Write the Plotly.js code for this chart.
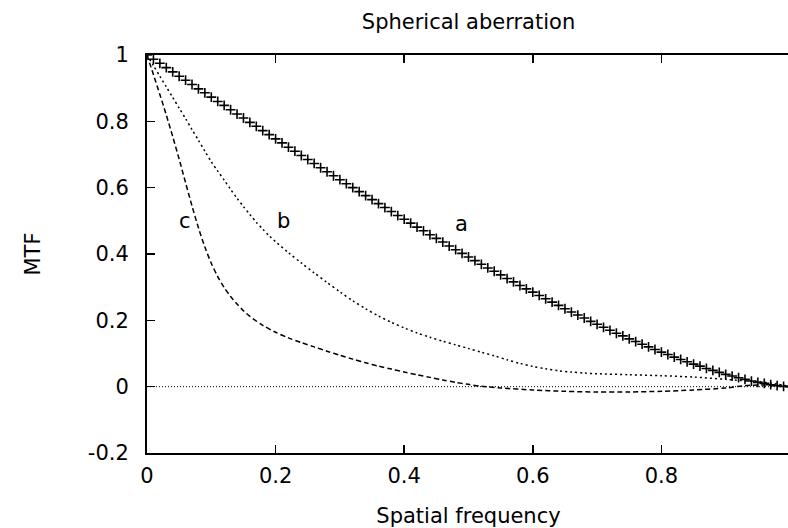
<!DOCTYPE html>
<html>
<head>
<meta charset="utf-8">
<script src="https://cdn.plot.ly/plotly-3.0.1.min.js"></script>
<style>
  html, body { margin: 0; padding: 0; overflow: hidden; background: #fff; }
  #chart { width: 790px; height: 528px; }
</style>
</head>
<body>
<div id="chart"></div>
<script>
// Curve a (diffraction limited, plus markers)
const freqA = [0,0.01,0.02,0.03,0.04,0.05,0.06,0.07,0.08,0.09,0.10,0.11,0.12,0.13,0.14,0.15,0.16,0.17,0.18,0.19,0.20,0.21,0.22,0.23,0.24,0.25,0.26,0.27,0.28,0.29,0.30,0.31,0.32,0.33,0.34,0.35,0.36,0.37,0.38,0.39,0.40,0.41,0.42,0.43,0.44,0.45,0.46,0.47,0.48,0.49,0.50,0.51,0.52,0.53,0.54,0.55,0.56,0.57,0.58,0.59,0.60,0.61,0.62,0.63,0.64,0.65,0.66,0.67,0.68,0.69,0.70,0.71,0.72,0.73,0.74,0.75,0.76,0.77,0.78,0.79,0.80,0.81,0.82,0.83,0.84,0.85,0.86,0.87,0.88,0.89,0.90,0.91,0.92,0.93,0.94,0.95,0.96,0.97,0.98,0.99,1.00];
const mtfA = [1.000,0.987,0.975,0.962,0.949,0.936,0.924,0.911,0.898,0.886,0.873,0.860,0.848,0.835,0.822,0.810,0.797,0.785,0.772,0.760,0.747,0.735,0.722,0.710,0.697,0.685,0.673,0.660,0.648,0.636,0.624,0.612,0.600,0.588,0.576,0.564,0.552,0.540,0.528,0.516,0.505,0.493,0.481,0.470,0.458,0.447,0.436,0.424,0.413,0.402,0.391,0.380,0.369,0.358,0.348,0.337,0.326,0.316,0.305,0.295,0.285,0.275,0.265,0.255,0.245,0.235,0.225,0.216,0.207,0.197,0.188,0.179,0.170,0.161,0.153,0.144,0.136,0.128,0.120,0.112,0.104,0.097,0.089,0.082,0.075,0.068,0.062,0.055,0.049,0.043,0.037,0.032,0.027,0.022,0.017,0.013,0.010,0.006,0.003,0.001,0.000];

// Curve b (dotted)
const freqB = [0,0.01,0.02,0.03,0.04,0.05,0.06,0.07,0.08,0.09,0.10,0.11,0.12,0.13,0.14,0.15,0.16,0.17,0.18,0.19,0.20,0.22,0.24,0.26,0.28,0.30,0.32,0.34,0.36,0.38,0.40,0.42,0.44,0.46,0.48,0.50,0.52,0.54,0.56,0.58,0.60,0.62,0.64,0.66,0.68,0.70,0.75,0.80,0.85,0.90,0.95,0.98,1.00];
const mtfB = [1.000,0.968,0.936,0.904,0.872,0.840,0.808,0.775,0.743,0.710,0.678,0.650,0.623,0.595,0.568,0.543,0.519,0.496,0.475,0.455,0.437,0.404,0.373,0.343,0.314,0.286,0.259,0.235,0.213,0.194,0.177,0.162,0.149,0.137,0.126,0.115,0.104,0.093,0.081,0.070,0.061,0.054,0.048,0.044,0.041,0.039,0.036,0.033,0.029,0.022,0.015,0.008,0.000];

// Curve c (dashed)
const freqC = [0,0.01,0.02,0.03,0.04,0.05,0.06,0.07,0.08,0.09,0.10,0.11,0.12,0.13,0.14,0.15,0.16,0.18,0.20,0.22,0.24,0.26,0.28,0.30,0.32,0.34,0.36,0.38,0.40,0.42,0.44,0.46,0.48,0.50,0.52,0.55,0.60,0.65,0.70,0.75,0.80,0.85,0.90,0.93,0.96,0.98,1.00];
const mtfC = [1.000,0.941,0.881,0.819,0.754,0.686,0.615,0.545,0.479,0.421,0.372,0.332,0.299,0.272,0.249,0.229,0.212,0.185,0.164,0.147,0.133,0.120,0.107,0.095,0.083,0.072,0.062,0.053,0.044,0.036,0.028,0.020,0.013,0.007,0.001,-0.004,-0.010,-0.014,-0.016,-0.016,-0.014,-0.010,-0.004,0.003,0.005,0.003,0.000];

// Zero reference line
const zeroX = [0, 1];
const zeroY = [0, 0];

// Labels
const curveLabels = ['a', 'b', 'c'];
const labelX = [0.489, 0.212, 0.059];
const labelY = [0.49, 0.50, 0.50];

const xTickVals = [0, 0.2, 0.4, 0.6, 0.8];
const xTickText = ['0', '0.2', '0.4', '0.6', '0.8'];
const yTickVals = [-0.2, 0, 0.2, 0.4, 0.6, 0.8, 1];
const yTickText = ['-0.2', '0', '0.2', '0.4', '0.6', '0.8', '1'];

const FONT = 'DejaVu Sans, sans-serif';
const FS = 21;

const traces = [
  { x: zeroX, y: zeroY, mode: 'lines', line: { color: '#000', width: 1, dash: '1px,2px' }, hoverinfo: 'skip' },
  { x: freqA, y: mtfA, mode: 'markers', marker: { symbol: 'cross-thin-open', size: 7, color: '#000', line: { color: '#000', width: 1.6 } } },
  { x: freqB, y: mtfB, mode: 'lines', line: { color: '#000', width: 1.5, dash: '2px,3px', shape: 'spline', smoothing: 0.8 } },
  { x: freqC, y: mtfC, mode: 'lines', line: { color: '#000', width: 1.5, dash: '5px,3px', shape: 'spline', smoothing: 0.8 } }
];

const annotations = curveLabels.map((t, i) => ({
  x: labelX[i], y: labelY[i], xref: 'x', yref: 'y', text: t, showarrow: false,
  font: { family: FONT, size: FS, color: '#000' }, xanchor: 'center', yanchor: 'middle'
}));

const layout = {
  width: 790, height: 528,
  margin: { l: 147, r: 0, t: 55, b: 75, pad: 0 },
  paper_bgcolor: '#fff', plot_bgcolor: '#fff',
  showlegend: false,
  font: { family: FONT, size: FS, color: '#000' },
  title: { text: 'Spherical aberration', font: { family: FONT, size: FS, color: '#000' },
           x: 0.5, xref: 'paper', y: 1 - 22 / 528, yref: 'container', yanchor: 'middle' },
  xaxis: {
    range: [0, 1], tickvals: xTickVals, ticktext: xTickText,
    ticks: 'inside', ticklen: 8, tickwidth: 1.5, tickcolor: '#000',
    showline: true, linewidth: 2, linecolor: '#000', mirror: 'ticks',
    showgrid: false, zeroline: false,
    tickfont: { family: FONT, size: FS, color: '#000' },
    ticklabelstandoff: 3,
    title: { text: 'Spatial frequency', font: { family: FONT, size: FS, color: '#000' }, standoff: 22 }
  },
  yaxis: {
    range: [-0.2, 1], tickvals: yTickVals, ticktext: yTickText,
    ticks: 'inside', ticklen: 8, tickwidth: 1.5, tickcolor: '#000',
    showline: true, linewidth: 2, linecolor: '#000', mirror: false,
    showgrid: false, zeroline: false,
    tickfont: { family: FONT, size: FS, color: '#000' },
    ticklabelstandoff: 12,
    title: { text: 'MTF', font: { family: FONT, size: FS, color: '#000' }, standoff: 41 }
  },
  annotations: annotations
};

Plotly.newPlot('chart', traces, layout, { staticPlot: true, displayModeBar: false });
</script>
</body>
</html>
